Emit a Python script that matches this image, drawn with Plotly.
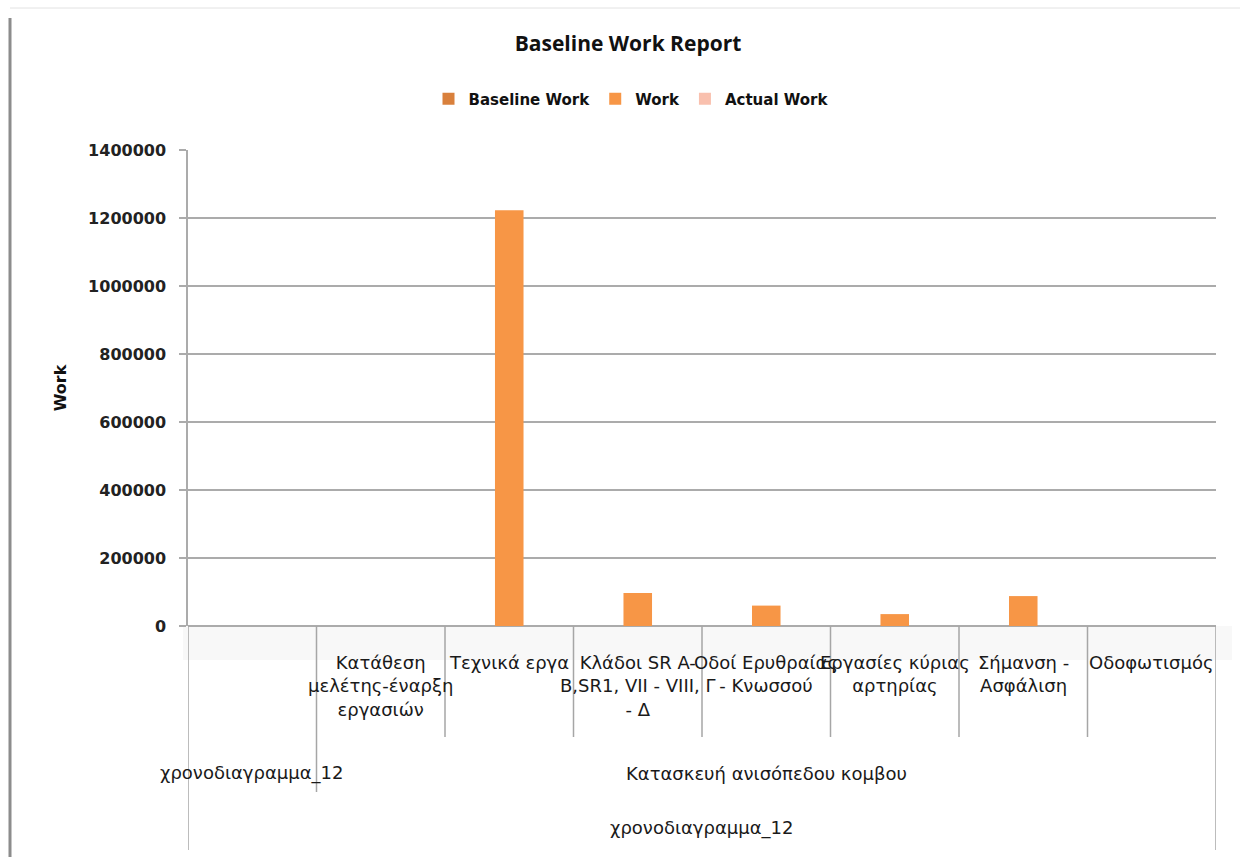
import plotly.graph_objects as go

# ---- data ----
tasks = [
    "χρονοδιαγραμμα_12 (summary)",
    "Κατάθεση μελέτης-έναρξη εργασιών",
    "Τεχνικά εργα",
    "Κλάδοι SR A-B,SR1, VII - VIII, Γ - Δ",
    "Οδοί Ερυθραίας - Κνωσσού",
    "Εργασίες κύριας αρτηρίας",
    "Σήμανση - Ασφάλιση",
    "Οδοφωτισμός",
]
task_labels = [
    "",
    "Κατάθεση<br>μελέτης-έναρξη<br>εργασιών",
    "Τεχνικά εργα",
    "Κλάδοι SR A-<br>B,SR1, VII - VIII, Γ<br>- Δ",
    "Οδοί Ερυθραίας<br>- Κνωσσού",
    "Εργασίες κύριας<br>αρτηρίας",
    "Σήμανση -<br>Ασφάλιση",
    "Οδοφωτισμός",
]
groups = ["χρονοδιαγραμμα_12", "Κατασκευή ανισόπεδου κομβου"]
group_span = [(0, 0), (1, 7)]
top_label = "χρονοδιαγραμμα_12"

baseline_work = [0, 0, 0, 0, 0, 0, 0, 0]
work = [0, 0, 1223000, 97000, 60000, 35000, 88000, 0]
actual_work = [0, 0, 0, 0, 0, 0, 0, 0]

series_names = ["Baseline Work", "Work", "Actual Work"]
series_colors = ["#D9803C", "#F79646", "#F9C0AE"]

FONT = "DejaVu Sans"

fig = go.Figure()
for name, vals, col in zip(series_names, [baseline_work, work, actual_work], series_colors):
    fig.add_trace(go.Bar(x=tasks, y=vals, name=name, marker=dict(color=col, line=dict(width=0))))

n = len(tasks)
shapes = []
# plot area pixel geometry: top=150, bottom(0)=626, height 476
def py(ypx):
    return (626 - ypx) / 476.0

def px(xpx):
    return (xpx - 188) / 1028.0

# faint band below axis
shapes.append(dict(type="rect", xref="paper", yref="paper", x0=px(183), x1=px(1232),
                   y0=py(660), y1=0, fillcolor="rgba(240,240,240,0.45)", line=dict(width=0), layer="below"))

# dividers between tasks (level 1)
for i in range(n + 1):
    xpos = i - 0.5
    if i == 0 or i == n:
        y_end = 850
    elif i == 1:
        y_end = 792
    else:
        y_end = 737
    shapes.append(dict(type="line", xref="x", yref="paper", x0=xpos, x1=xpos,
                       y0=0, y1=py(y_end), line=dict(color="#A6A6A6", width=1.5)))

# page borders
shapes.append(dict(type="line", xref="paper", yref="paper", x0=px(10), x1=px(10),
                   y0=py(857), y1=py(18), line=dict(color="#8C8C8C", width=3)))
shapes.append(dict(type="line", xref="paper", yref="paper", x0=px(10), x1=px(1240),
                   y0=py(8), y1=py(8), line=dict(color="#E2E2E2", width=1)))

annotations = []
for i, lab in enumerate(task_labels):
    if lab:
        annotations.append(dict(x=i, xref="x", y=py(650), yref="paper", text=lab, showarrow=False,
                                xanchor="center", yanchor="top", align="center",
                                font=dict(family=FONT, size=18, color="#1a1a1a")))
for g, (a, b) in zip(groups, group_span):
    annotations.append(dict(x=(a + b) / 2, xref="x", y=py(773), yref="paper", text=g, showarrow=False,
                            xanchor="center", yanchor="middle",
                            font=dict(family=FONT, size=18, color="#1a1a1a")))
annotations.append(dict(x=(n - 1) / 2, xref="x", y=py(828), yref="paper", text=top_label, showarrow=False,
                        xanchor="center", yanchor="middle",
                        font=dict(family=FONT, size=18, color="#1a1a1a")))

fig.update_layout(
    width=1240, height=857,
    margin=dict(l=188, r=24, t=150, b=231),
    paper_bgcolor="white", plot_bgcolor="white",
    barmode="group", bargap=0.333, bargroupgap=0,
    title=dict(text="<b>Baseline Work Report</b>", x=628 / 1240, xref="container", xanchor="center",
               y=1 - 44 / 857, yref="container", yanchor="middle",
               font=dict(family="Open Sans", size=21, color="#111")),
    legend=dict(orientation="h", xref="container", yref="container", x=631 / 1240, xanchor="center",
                y=1 - 99 / 857, yanchor="middle",
                font=dict(family=FONT, size=15, color="#111", weight="bold"),
                itemwidth=30, tracegroupgap=0),
    xaxis=dict(type="category", showticklabels=False, showgrid=False, zeroline=False,
               showline=False, ticks="", range=[-0.5, n - 0.5], fixedrange=True),
    yaxis=dict(range=[0, 1400000], dtick=200000, tickformat="d", showgrid=True, gridcolor="#ABABAB",
               gridwidth=1.5, zeroline=True, zerolinecolor="#ABABAB", zerolinewidth=1.5,
               showline=True, linecolor="#ABABAB", linewidth=1.5, ticks="outside", ticklen=7,
               tickcolor="#ABABAB", tickwidth=1.5, ticklabelstandoff=10,
               tickfont=dict(family=FONT, size=16, color="#222", weight="bold"),
               title=dict(text="<b>Work</b>", font=dict(family=FONT, size=16, color="#111"), standoff=18)),
    shapes=shapes, annotations=annotations,
    showlegend=True,
)

fig.write_html("out.html")
